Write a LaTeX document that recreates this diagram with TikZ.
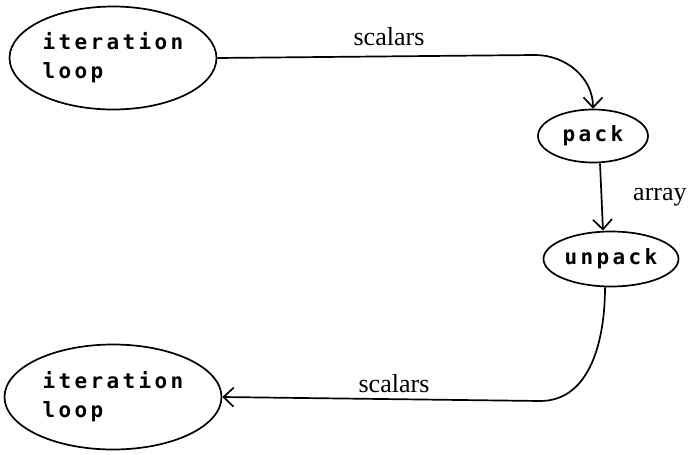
\documentclass[tikz,border=0pt]{standalone}
\usepackage{fontspec}
\setmainfont{Liberation Serif}
\newfontfamily\loopfont[LetterSpace=16]{DejaVu Sans Mono}
\usetikzlibrary{arrows.meta, shapes.geometric}
\tikzset{
  blob/.style={draw, ellipse, line width=1.7pt, inner sep=0pt, align=left,
               font=\fontsize{21}{29}\loopfont\bfseries\selectfont},
  flow/.style={-{Straight Barb[length=10pt,width=19pt]}, line width=1.7pt},
  tag/.style={font=\fontsize{26}{28}\selectfont, inner sep=0pt},
}
\begin{document}
\begin{tikzpicture}[x=1pt, y=-1pt]
    \useasboundingbox (0,0) rectangle (688,455);
    \node[blob, minimum width=207pt, minimum height=103pt] (loopA) at (113,58)  {iteration\\loop};
    \node[blob, minimum width=110pt, minimum height=53pt]  (pack)   at (593,136) {pack};
    \node[blob, minimum width=135pt, minimum height=55pt]  (unpack) at (611,259) {unpack};
    \node[blob, minimum width=217pt, minimum height=105pt] (loopB) at (113,397) {iteration\\loop};
    \coordinate (bendA) at (535,55);
    \coordinate (bendB) at (540,401);
    \draw[flow] (loopA.east) -- (bendA) to[out=0, in=90] (pack.north);
    \draw[flow] ([xshift=7pt]pack.south) -- ([xshift=-8pt]unpack.north);
    \draw[flow] ([xshift=-6pt]unpack.south) to[out=-90, in=0] (bendB) -- (loopB.east);
    \node[tag] (topTag) at (389,37)  {scalars};
    \node[tag] (botTag) at (394,384) {scalars};
    \node[tag, anchor=base west] (midTag) at (633,200) {array};
  \end{tikzpicture}
\end{document}
